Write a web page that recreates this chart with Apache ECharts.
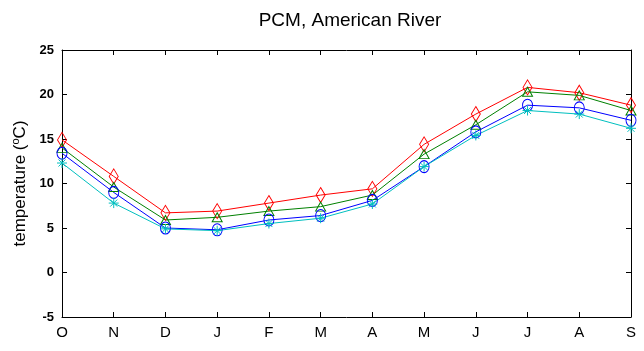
<!DOCTYPE html>
<html>
<head>
<meta charset="utf-8">
<script src="https://cdn.jsdelivr.net/npm/echarts@6/dist/echarts.min.js"></script>
<style>
  html, body { margin: 0; padding: 0; background: #fff; }
  #chart { width: 644px; height: 351px; }
</style>
</head>
<body>
<div id="chart"></div>
<script>
// months, October to September
const months = ['O', 'N', 'D', 'J', 'F', 'M', 'A', 'M', 'J', 'J', 'A', 'S'];

// four runs
const redVals = [14.9, 10.8, 6.7, 6.9, 7.8, 8.7, 9.4, 14.4, 17.8, 20.8, 20.2, 18.8];
const greenVals = [14.0, 9.6, 5.9, 6.2, 6.9, 7.4, 8.7, 13.3, 16.6, 20.3, 19.9, 18.2];
const blueVals = [13.4, 9.0, 5.0, 4.8, 5.9, 6.4, 8.1, 11.9, 15.8, 18.8, 18.5, 17.1];
const cyanVals = [12.3, 7.8, 4.9, 4.7, 5.5, 6.1, 7.7, 11.9, 15.4, 18.2, 17.8, 16.2];

const yTicks = [-5, 0, 5, 10, 15, 20, 25];

const font = 'Liberation Sans, Arial, Helvetica, sans-serif';
const star = 'path://M0 5 L10 5 M5 0 L5 10 M1.5 1.5 L8.5 8.5 M1.5 8.5 L8.5 1.5';

function line(name, data, color, symbol, size) {
    return {
        name: name,
        type: 'line',
        data: data,
        symbol: symbol,
        symbolSize: size,
        showAllSymbol: true,
        lineStyle: {color: color, width: 1},
        itemStyle: {color: 'none', borderColor: color, borderWidth: 1},
        emphasis: {disabled: true},
        animation: false
    };
}

const chart = echarts.init(document.getElementById('chart'));
chart.setOption({
    backgroundColor: '#fff',
    title: {
        text: 'PCM, American River',
        left: 345,
        textAlign: 'center',
        top: 6,
        textStyle: {fontFamily: font, fontSize: 19, fontWeight: 'normal', color: '#000'}
    },
    grid: {left: 62, right: 13, top: 50, bottom: 34},
    xAxis: [{
        type: 'category',
        data: months,
        boundaryGap: false,
        axisLine: {onZero: false, lineStyle: {color: '#000', width: 1}},
        axisTick: {inside: true, length: 5, lineStyle: {color: '#000'}},
        axisLabel: {color: '#000', fontFamily: font, fontSize: 15, margin: 8},
        splitLine: {show: false}
    }, {
        type: 'category',
        data: months,
        boundaryGap: false,
        position: 'top',
        axisLine: {onZero: false, lineStyle: {color: '#000', width: 1}},
        axisTick: {inside: true, length: 5, lineStyle: {color: '#000'}},
        axisLabel: {show: false}
    }],
    yAxis: [{
        type: 'value',
        min: yTicks[0],
        max: yTicks[yTicks.length - 1],
        interval: 5,
        name: '{t|temperature (}{s|o}{t|C)}',
        nameLocation: 'middle',
        nameGap: 31,
        nameRotate: 90,
        nameTextStyle: {
            rich: {
                t: {fontFamily: font, fontSize: 17, color: '#000'},
                s: {fontFamily: font, fontSize: 11, color: '#000', verticalAlign: 'top', padding: [0, 0, 9, 0]}
            }
        },
        axisLine: {show: true, lineStyle: {color: '#000', width: 1}},
        axisTick: {show: true, inside: true, length: 5, lineStyle: {color: '#000'}},
        axisLabel: {color: '#000', fontFamily: font, fontSize: 13, fontWeight: 'bold', margin: 8},
        splitLine: {show: false}
    }, {
        type: 'value',
        min: yTicks[0],
        max: yTicks[yTicks.length - 1],
        interval: 5,
        position: 'right',
        axisLine: {show: true, lineStyle: {color: '#000', width: 1}},
        axisTick: {show: true, inside: true, length: 5, lineStyle: {color: '#000'}},
        axisLabel: {show: false},
        splitLine: {show: false}
    }],
    series: [
        line('red', redVals, '#ff0000', 'diamond', [9, 15]),
        line('green', greenVals, '#008000', 'triangle', [10, 9]),
        line('blue', blueVals, '#0000ff', 'circle', [10, 12]),
        line('cyan', cyanVals, '#00bfbf', star, [10, 10])
    ]
});
</script>
</body>
</html>
